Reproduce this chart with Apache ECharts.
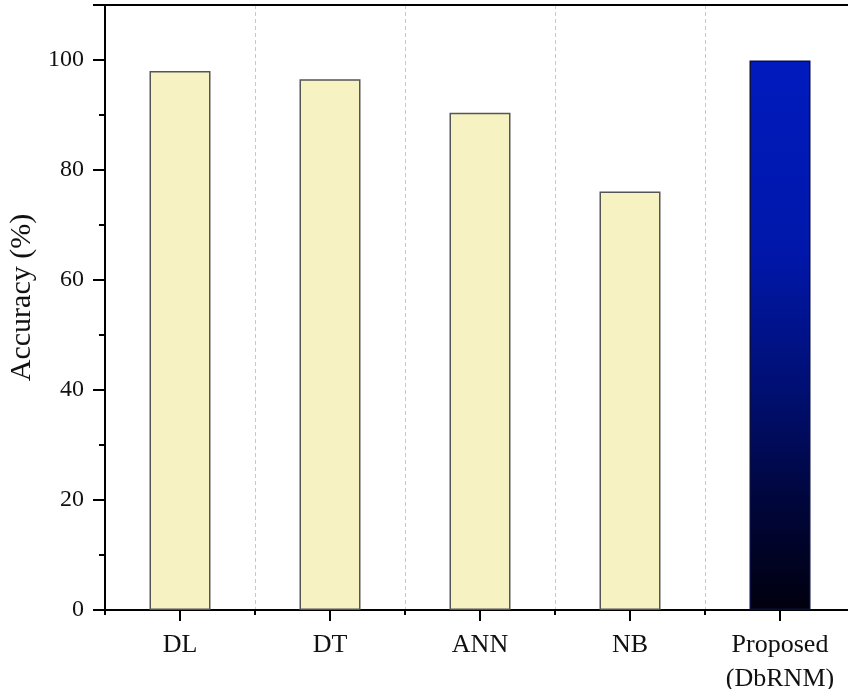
<!DOCTYPE html>
<html>
<head>
<meta charset="utf-8">
<script src="https://cdn.jsdelivr.net/npm/echarts@6/dist/echarts.min.js"></script>
<style>
  html, body { margin: 0; padding: 0; background: #fff; }
  #chart { width: 848px; height: 689px; }
</style>
</head>
<body>
<div id="chart"></div>
<script>
// Classifier accuracy comparison
const categories = ['DL', 'DT', 'ANN', 'NB', 'Proposed\n(DbRNM)'];
const accuracy = [98.0, 96.5, 90.4, 76.1, 99.9];
const yTicks = [0, 20, 40, 60, 80, 100];

const FONT = '"Liberation Serif", "Times New Roman", serif';

const proposedFill = new echarts.graphic.LinearGradient(0, 0, 0, 1, [
  { offset: 0.0, color: '#001BBE' },
  { offset: 0.35, color: '#0017AA' },
  { offset: 0.6, color: '#000F72' },
  { offset: 0.8, color: '#00063C' },
  { offset: 1.0, color: '#00000E' }
]);

const barData = accuracy.map((v, i) => {
  const last = i === accuracy.length - 1;
  return {
    value: v,
    itemStyle: last
      ? { color: proposedFill, borderColor: '#0A0F40', borderWidth: 1.5 }
      : { color: '#F6F2C2', borderColor: '#555555', borderWidth: 1.5 }
  };
});

const chart = echarts.init(document.getElementById('chart'), null, { renderer: 'canvas' });
chart.setOption({
  animation: false,
  backgroundColor: '#ffffff',
  grid: { left: 105, right: -7, top: 5, bottom: 79, containLabel: false, outerBoundsMode: 'none' },
  xAxis: [
    {
      type: 'category',
      data: categories,
      position: 'bottom',
      axisLine: { show: true, lineStyle: { color: '#000', width: 2 } },
      axisTick: { show: true, length: 5, lineStyle: { color: '#000', width: 2 } },
      axisLabel: { margin: 18, fontFamily: FONT, fontSize: 26, color: '#111', lineHeight: 34 },
      splitLine: { show: true, lineStyle: { color: '#C8C8C8', type: [4, 3], width: 1 } }
    },
    {
      type: 'category',
      data: categories,
      position: 'bottom',
      offset: 0,
      axisLine: { show: false },
      axisTick: { show: true, alignWithLabel: true, length: 11, lineStyle: { color: '#000', width: 2 } },
      axisLabel: { show: false },
      splitLine: { show: false }
    },
    {
      type: 'category',
      data: categories,
      position: 'top',
      axisLine: { show: true, lineStyle: { color: '#000', width: 2 } },
      axisTick: { show: false },
      axisLabel: { show: false },
      splitLine: { show: false }
    }
  ],
  yAxis: {
    type: 'value',
    min: 0,
    max: 110,
    interval: 20,
    name: 'Accuracy (%)',
    nameLocation: 'middle',
    nameGap: 66,
    nameTextStyle: { fontFamily: FONT, fontSize: 30, color: '#111', padding: [0, 0, 0, 20] },
    axisLine: { show: true, lineStyle: { color: '#000', width: 2 } },
    axisTick: { show: true, length: 12, lineStyle: { color: '#000', width: 2 } },
    minorTick: { show: true, splitNumber: 2, length: 6, lineStyle: { color: '#000', width: 2 } },
    axisLabel: {
      margin: 21,
      fontFamily: FONT,
      fontSize: 24,
      color: '#111',
      formatter: v => (yTicks.indexOf(v) >= 0 ? String(v) : '')
    },
    splitLine: { show: false }
  },
  series: [
    {
      type: 'bar',
      xAxisIndex: 0,
      data: barData,
      barWidth: 61
    }
  ]
});
</script>
</body>
</html>
